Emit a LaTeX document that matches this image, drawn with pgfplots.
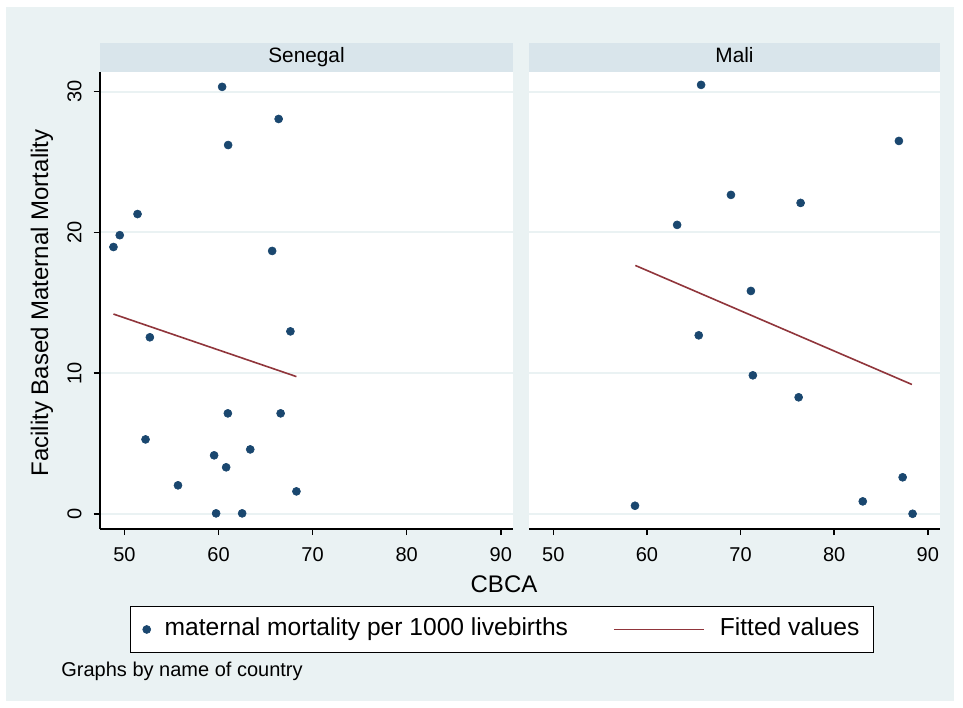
\documentclass[border=0pt]{standalone}
\usepackage{fontspec}
\setmainfont{Liberation Sans}
\usepackage{pgfplots}
\pgfplotsset{compat=1.18}
\definecolor{bgc}{RGB}{234,242,243}
\definecolor{stripc}{RGB}{217,229,235}
\definecolor{navy}{RGB}{26,71,111}
\definecolor{maroon}{RGB}{144,53,59}
\pgfplotsset{
 panel/.style={
  scale only axis, height=228.6pt,
  xmin=47.4, xmax=91.3, ymin=-1.04, ymax=31.42,
  xtick={50,60,70,80,90}, ytick={0,10,20,30},
  axis x line*=bottom, axis y line*=left,
  tick align=outside, major tick length=3.2pt,
  axis line style={line width=1pt, black},
  tick style={line width=0.75pt, black},
  ymajorgrids, major grid style={line width=1pt, bgc},
  axis background/.style={fill=white},
  /pgf/number format/assume math mode=true,
  tick label style={font=\fontsize{10}{12}\selectfont},
  xticklabel style={anchor=north, inner sep=6pt},
  yticklabel style={rotate=90, anchor=south, inner sep=5.85pt},
 },
 pts/.style={only marks, mark=*, mark size=2pt, color=navy, mark options={fill=navy, draw=navy, line width=0.3pt}},
 fit/.style={maroon, line width=0.8pt, no marks},
 legpts/.style={legend image code/.code={\path[draw=none,fill=none] (0pt,0pt) rectangle (17pt,0pt); \draw[mark repeat=2,mark phase=2,##1] plot coordinates {(0pt,0pt) (8pt,0pt) (16pt,0pt)};}},
 legfit/.style={legend image code/.code={\path[draw=none,fill=none] (0pt,0pt) rectangle (53pt,0pt); \draw[##1] (0pt,0pt) -- (45pt,0pt);}},
}
\begin{document}
\begin{tikzpicture}
\fill[white] (0pt,0pt) rectangle (481.5pt,-353.5pt);
\fill[bgc] (3pt,-3.5pt) rectangle (477pt,-350.5pt);
\fill[stripc] (50pt,-21.35pt) rectangle (256.5pt,-35.75pt);
\fill[stripc] (264.5pt,-21.35pt) rectangle (470pt,-35.75pt);

\begin{axis}[panel, at={(50pt,-264.35pt)}, anchor=south west, width=206.5pt,
  legend columns=2,
  legend style={at={(0.0726,-0.168)}, anchor=north west, draw=black, line width=0.75pt, fill=white,
    inner xsep=0pt, inner ysep=5.8pt, font=\fontsize{12.3}{14}\selectfont,
    nodes={inner sep=0pt, text height=9pt, text depth=2.6pt},
    /tikz/every even column/.append style={column sep=22.5pt}},
]
\addplot[pts, legpts] table {
x y
60.38 30.33
66.39 28.05
61.02 26.2
51.39 21.3
49.5 19.8
48.83 18.96
65.7 18.68
52.7 12.55
67.64 12.97
60.99 7.15
66.6 7.15
52.24 5.3
63.37 4.59
59.53 4.17
60.81 3.32
55.69 2.04
68.28 1.61
59.74 0.05
62.51 0.05
};
\addplot[fit, legfit] coordinates {(48.83,14.2) (68.28,9.76)};
\legend{maternal mortality per 1000 livebirths, Fitted values\hspace*{7pt}}
\end{axis}

\begin{axis}[panel, at={(264.5pt,-264.35pt)}, anchor=south west, width=205.5pt,
  yticklabels={}, ytick style={draw=none}, y axis line style={draw=none}]
\addplot[pts] table {
x y
65.78 30.47
86.91 26.49
68.97 22.66
76.41 22.09
63.22 20.53
71.1 15.84
65.53 12.69
71.31 9.85
76.2 8.29
58.72 0.59
83.05 0.9
87.31 2.61
88.37 0.02
};
\addplot[fit] coordinates {(58.76,17.65) (88.3,9.2)};
\end{axis}

\node[font=\fontsize{10.4}{12}\selectfont, anchor=base] at (153.25pt,-31.25pt) {Senegal};
\node[font=\fontsize{10.4}{12}\selectfont, anchor=base] at (367.25pt,-31.25pt) {Mali};
\node[font=\fontsize{12}{14}\selectfont, anchor=base] at (252pt,-296pt) {CBCA};
\node[font=\fontsize{12}{14}\selectfont, anchor=base, rotate=90] at (24pt,-151.5pt) {Facility Based Maternal Mortality};
\node[font=\fontsize{10}{12}\selectfont, anchor=base west, inner sep=0pt] at (30.5pt,-338pt) {Graphs by name of country};

\pgfresetboundingbox
\path (0pt,0pt) rectangle (481.5pt,-353.5pt);
\end{tikzpicture}
\end{document}
